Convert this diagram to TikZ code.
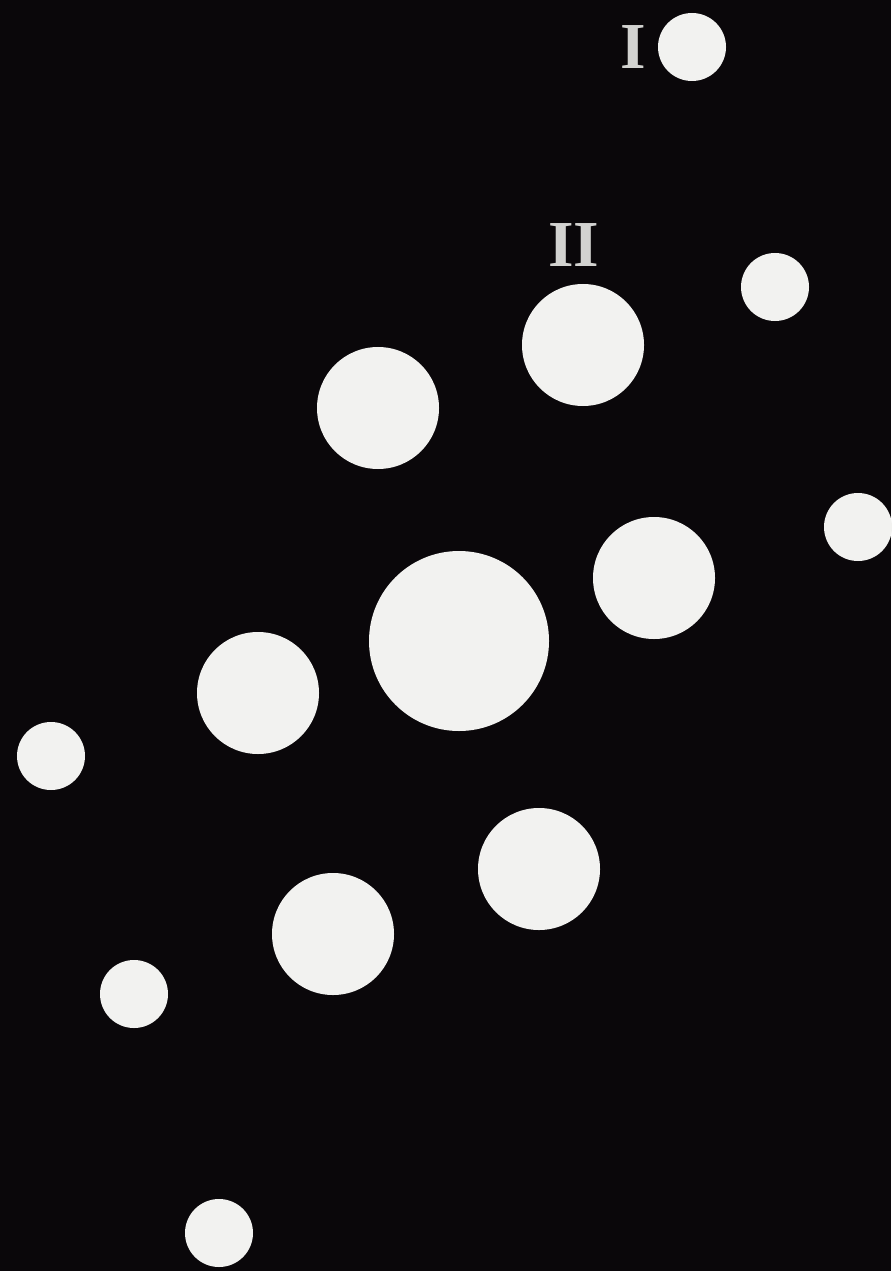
\documentclass[tikz,border=0pt]{standalone}
\usepackage{tikz}
\usepackage{fontspec}
\usetikzlibrary{positioning}
\newfontfamily\tagfont{Liberation Serif}
\definecolor{night}{HTML}{0A070A}
\definecolor{ballwhite}{HTML}{F2F2F0}
\definecolor{labelgrey}{HTML}{D2D2D0}

\begin{document}
\begin{tikzpicture}[x=0.03cm,y=-0.03cm,
  ball/.style={circle,fill=ballwhite,inner sep=0pt},
  smallball/.style={ball,minimum size=2.04cm},
  midball/.style={ball,minimum size=3.66cm},
  bigball/.style={ball,minimum size=5.4cm},
  tag/.style={font=\tagfont\fontsize{56}{60}\selectfont\bfseries,text=labelgrey,inner sep=0pt}]

  \fill[night] (0,0) rectangle (891,1271);
  \useasboundingbox (0,0) rectangle (891,1271);

  % small outer spheres
  \node[smallball] (s1) at (692,47) {};
  \node[smallball] (s2) at (775,287) {};
  \node[smallball] (s3) at (858,527) {};
  \node[smallball] (s4) at (51,756) {};
  \node[smallball] (s5) at (134,994) {};
  \node[smallball] (s6) at (219,1233) {};

  % middle ring
  \node[midball] (m1) at (583,345) {};
  \node[midball] (m2) at (378,408) {};
  \node[midball] (m3) at (654,578) {};
  \node[midball] (m4) at (258,693) {};
  \node[midball] (m5) at (539,869) {};
  \node[midball] (m6) at (333,934) {};

  % centre
  \node[bigball] (c) at (459,641) {};

  \node[tag] (one) at (633,47) {I};
  \node[tag] (two) at (574,245) {II};
\end{tikzpicture}
\end{document}
